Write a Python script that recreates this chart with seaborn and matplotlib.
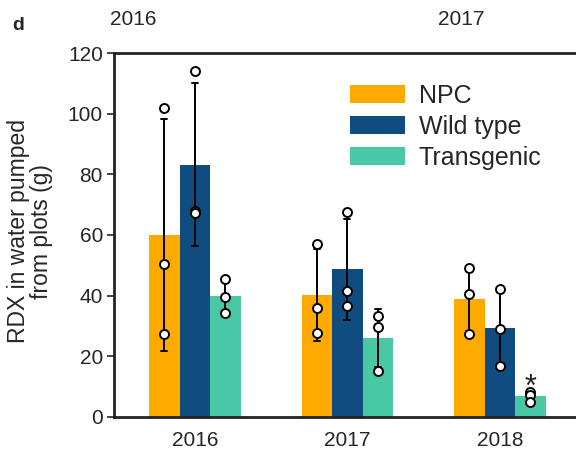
import matplotlib
matplotlib.use("Agg")
import matplotlib.pyplot as plt
import seaborn as sns
import pandas as pd

# Replicate plot measurements (g RDX) per harvest year and plant line
years = ["2016", "2017", "2018"]
lines = ["NPC", "Wild type", "Transgenic"]
npc_reps = [[102.0, 50.5, 27.5], [57.0, 36.0, 27.6], [49.0, 40.6, 27.5]]
wild_reps = [[114.1, 68.0, 67.3], [67.5, 41.7, 36.7], [42.2, 29.1, 16.8]]
trans_reps = [[45.5, 39.7, 34.4], [33.4, 29.7, 15.3], [8.4, 7.1, 5.1]]
palette = ["#FFAA00", "#114C80", "#48C8A5"]
yticks = [0, 20, 40, 60, 80, 100, 120]
top_labels = ["2016", "2017"]
significant = ("2018", "Transgenic")

rows = []
for line, reps in zip(lines, [npc_reps, wild_reps, trans_reps]):
    for year, vals in zip(years, reps):
        for v in vals:
            rows.append({"year": year, "line": line, "rdx": v})
df = pd.DataFrame(rows)

sns.set_style("ticks")
plt.rcParams["font.family"] = ["Liberation Sans", "DejaVu Sans"]

fig = plt.figure(figsize=(5.76, 4.53), dpi=100)
ax = fig.add_axes([0.198, 0.0795, 0.802, 0.8035])

group_width = 0.6
bar_w = group_width / len(lines)

sns.barplot(data=df, x="year", y="rdx", hue="line", order=years,
            hue_order=lines, palette=palette, errorbar="sd",
            width=group_width, gap=0, capsize=0.12, saturation=1,
            linewidth=0, err_kws={"color": "black", "linewidth": 1.4},
            ax=ax)

# individual replicates, centred on their bars
x_of = {(y, l): years.index(y) + (lines.index(l) - 1) * bar_w
        for y in years for l in lines}
xs = [x_of[(r.year, r.line)] for r in df.itertuples()]
ax.scatter(xs, df["rdx"], s=42, facecolor="white", edgecolor="black",
           linewidth=1.4, zorder=5)

# significance marker above the flagged bar
ymax = df[(df.year == significant[0]) & (df.line == significant[1])].rdx.max()
ax.text(x_of[significant], ymax - 3.8, "*", ha="center", va="bottom",
        fontsize=22, color="#222222", zorder=6)

ax.set_ylim(0, 120)
ax.set_xlim(-0.53, 2.50)
ax.set_yticks(yticks)
ax.tick_params(axis="y", labelsize=15, length=5, width=1.2, pad=3)
ax.tick_params(axis="x", labelsize=15, length=0, pad=10)
ax.set_xlabel("")
ax.set_ylabel("RDX in water pumped\nfrom plots (g)", fontsize=16.5,
              linespacing=1.0)
ax.yaxis.set_label_coords(-0.132, 0.51)
for s in ["top", "left", "bottom"]:
    ax.spines[s].set_visible(True)
    ax.spines[s].set_linewidth(2)
    ax.spines[s].set_color("#222222")
ax.spines["right"].set_visible(False)

leg = ax.legend(loc="upper left", bbox_to_anchor=(0.51, 0.915), frameon=False,
                fontsize=18, handlelength=2.2, handleheight=0.72,
                handletextpad=0.56, labelspacing=0.28, borderaxespad=0,
                borderpad=0)

fig.text(0.232, 0.957, top_labels[0], ha="center", va="center", fontsize=15)
fig.text(0.80, 0.957, top_labels[1], ha="center", va="center", fontsize=15)
fig.text(0.031, 0.944, "d", ha="center", va="center", fontsize=14,
         fontweight="bold")

fig.savefig("out.png", dpi=100)
